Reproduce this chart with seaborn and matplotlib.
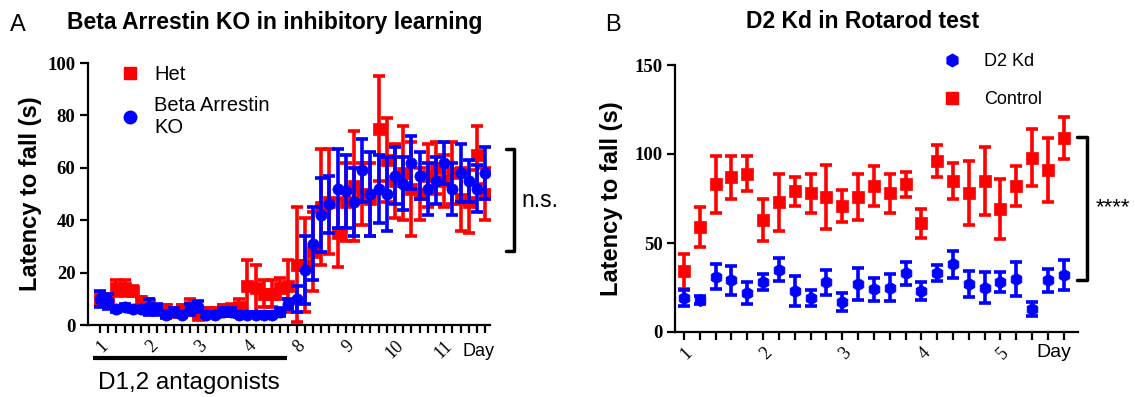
import numpy as np
import pandas as pd
import matplotlib
matplotlib.use("Agg")
import matplotlib.pyplot as plt
import seaborn as sns
from matplotlib.lines import Line2D

sns.set_style("ticks")
plt.rcParams['font.family'] = ['Liberation Sans', 'DejaVu Sans']
plt.rcParams['text.color'] = 'black'
plt.rcParams['axes.labelcolor'] = 'black'
plt.rcParams['xtick.color'] = 'black'
plt.rcParams['ytick.color'] = 'black'

# ---------------- Panel A data ----------------
a_days = ['1', '2', '3', '4', '8', '9', '10', '11']
a_trials_per_day = 6
het_mean = [10, 10, 14, 14, 13, 9,
            8, 6, 6, 5, 6, 7,
            4, 5, 5, 6, 6, 7,
            15, 14, 12, 12, 14, 15,
            23, 23, 28, 45, 47, 35,
            47, 53, 50, 48, 75, 63,
            55, 58, 52, 50, 57, 60,
            55, 58, 48, 47, 65, 50]
het_sem = [2.5, 2, 3, 3, 2, 1.5,
           2, 1.5, 1.5, 1.5, 1.5, 3,
           1, 1.5, 1.5, 1.5, 2, 3,
           10, 9, 5, 5, 4, 10,
           22, 18, 15, 22, 20, 13,
           15, 21, 12, 14, 20, 16,
           14, 18, 18, 10, 12, 10,
           10, 12, 12, 12, 11, 10]
ko_mean = [10, 9, 6, 7, 6, 6,
           7, 6, 4, 5, 4, 6,
           7, 4, 4, 5, 5, 4,
           4, 4, 4, 4, 5, 8,
           10, 21, 31, 42, 46, 52,
           51, 47, 59, 50, 52, 50,
           57, 54, 62, 57, 52, 55,
           62, 52, 58, 55, 52, 58]
ko_sem = [3, 3, 1, 1, 1, 1,
          3, 2, 1.5, 1.5, 1, 2,
          2, 1, 1, 1.5, 1.5, 1,
          1, 1, 1, 1, 1.5, 2,
          5, 13, 14, 14, 11, 15,
          14, 13, 12, 16, 13, 14,
          11, 10, 10, 9, 10, 9,
          8, 10, 11, 8, 9, 10]

# ---------------- Panel B data ----------------
b_days = ['1', '2', '3', '4', '5']
b_trials_per_day = 5
ctrl_mean = [34, 59, 83, 87, 89, 63, 73, 79, 78, 76, 71, 76, 82, 78, 83,
             61, 96, 85, 78, 85, 69, 82, 98, 91, 109]
ctrl_sem = [10, 11, 16, 12, 10, 12, 16, 8, 11, 18, 9, 13, 11, 11, 7,
            8, 9, 10, 18, 19, 17, 11, 16, 18, 12]
kd_mean = [19, 18, 31, 29, 22, 28, 35, 23, 19, 28, 17, 27, 24, 25, 33,
           23, 33, 38, 27, 25, 28, 30, 13, 29, 32]
kd_sem = [4.5, 2, 7, 8, 6, 4.5, 6.5, 8.5, 4.5, 7, 5, 9, 6.5, 7.5, 6.5,
          5, 4.5, 7.5, 7.5, 8.5, 5.5, 9.5, 4, 6.5, 8.5]

RED = '#ff0000'
BLUE = '#0000ff'

fig = plt.figure(figsize=(11.35, 3.97), dpi=100)
W, H = 1135, 397

def style_axis(ax):
    for s in ['top', 'right']:
        ax.spines[s].set_visible(False)
    for s in ['left', 'bottom']:
        ax.spines[s].set_linewidth(1.6)
        ax.spines[s].set_color('black')
    ax.tick_params(direction='out', length=5.5, width=1.6, colors='black')
    for lab in ax.get_yticklabels():
        lab.set_fontfamily('Liberation Serif')
        lab.set_fontweight('bold')
        lab.set_fontsize(13.5)

def draw_series(ax, x, mean, sem, color, marker, size, label, z):
    ax.errorbar(x, mean, yerr=sem, fmt='none', ecolor=color, elinewidth=2.6,
                capsize=4.5, capthick=2.6, zorder=z)
    df = pd.DataFrame({'trial': x, 'latency': mean})
    sns.scatterplot(data=df, x='trial', y='latency', ax=ax, color=color,
                    marker=marker, s=size, edgecolor=color, linewidth=0.5,
                    zorder=z + 0.5, label=label, legend=False)

# ---------------- Panel A ----------------
axA = fig.add_axes([88 / W, (H - 325) / H, 402 / W, 262 / H])
nA = len(a_days) * a_trials_per_day
xA = np.arange(nA)
draw_series(axA, xA, het_mean, het_sem, RED, 's', 65, 'Het', 2)
draw_series(axA, xA, ko_mean, ko_sem, BLUE, 'o', 65, 'Beta Arrestin\nKO', 3)
axA.set_xlim(-1.46, 47.6)
axA.set_ylim(0, 100)
axA.set_yticks([0, 20, 40, 60, 80, 100])
labsA = [''] * nA
for i, d in enumerate(a_days):
    labsA[i * a_trials_per_day] = d
axA.set_xticks(xA)
axA.set_xticklabels(labsA, rotation=45, ha='right', rotation_mode='anchor',
                    fontfamily='Liberation Serif', fontsize=13)
axA.set_xlabel('')
axA.set_ylabel('Latency to fall (s)', fontsize=17, fontweight='bold')
axA.yaxis.set_label_coords(-0.115, 0.5)
style_axis(axA)
axA.text(44.2, -0.1, 'Day', transform=axA.get_xaxis_transform(),
         fontsize=13, va='center', ha='left')
axA.plot([-0.85, 22.8], [-0.125, -0.125], transform=axA.get_xaxis_transform(),
         color='black', lw=3, clip_on=False, solid_capstyle='butt')
axA.text(10.8, -0.22, 'D1,2 antagonists', transform=axA.get_xaxis_transform(),
         fontsize=17.5, ha='center', va='center')
# n.s. bracket
axA.plot([49.6, 50.5, 50.5, 49.6], [67.2, 67.2, 28.2, 28.2], color='black',
         lw=2.5, clip_on=False)
axA.text(51.4, 47.7, 'n.s.', fontsize=16.5, va='center', ha='left')
hA = [Line2D([], [], ls='none', marker='s', color=RED, markersize=9),
      Line2D([], [], ls='none', marker='o', color=BLUE, markersize=9)]
axA.legend(hA, ['Het', 'Beta Arrestin\nKO'], loc='upper left',
           bbox_to_anchor=(0.03, 1.06), frameon=False, fontsize=14.5,
           handletextpad=0.6, labelspacing=0.6, handlelength=1.2)
fig.text(10 / W, 1 - 25 / H, 'A', fontsize=17, va='center', ha='left')
fig.text(275 / W, 1 - 22 / H, 'Beta Arrestin KO in inhibitory learning',
         fontsize=16.5, fontweight='bold', ha='center', va='center')

# ---------------- Panel B ----------------
axB = fig.add_axes([675 / W, (H - 332) / H, 403 / W, 267 / H])
nB = len(b_days) * b_trials_per_day
xB = np.arange(nB)
draw_series(axB, xB, ctrl_mean, ctrl_sem, RED, 's', 75, 'Control', 2)
draw_series(axB, xB, kd_mean, kd_sem, BLUE, 'h', 80, 'D2 Kd', 3)
axB.set_xlim(-0.57, 24.9)
axB.set_ylim(0, 150)
axB.set_yticks([0, 50, 100, 150])
labsB = [''] * nB
for i, d in enumerate(b_days):
    labsB[i * b_trials_per_day] = d
axB.set_xticks(xB)
axB.set_xticklabels(labsB, rotation=45, ha='right', rotation_mode='anchor',
                    fontfamily='Liberation Serif', fontsize=13)
axB.set_xlabel('')
axB.set_ylabel('Latency to fall (s)', fontsize=17, fontweight='bold')
axB.yaxis.set_label_coords(-0.13, 0.5)
style_axis(axB)
axB.text(22.3, -0.075, 'Day', transform=axB.get_xaxis_transform(),
         fontsize=14, va='center', ha='left')
axB.plot([24.85, 25.5, 25.5, 24.85], [109.5, 109.5, 29, 29], color='black',
         lw=2.5, clip_on=False)
axB.text(26.0, 70, '****', fontsize=16, va='center', ha='left')
hB = [Line2D([], [], ls='none', marker='h', color=BLUE, markersize=9),
      Line2D([], [], ls='none', marker='s', color=RED, markersize=9)]
axB.legend(hB, ['D2 Kd', 'Control'], loc='upper left',
           bbox_to_anchor=(0.62, 1.105), frameon=False, fontsize=13,
           handletextpad=1.2, labelspacing=1.15, handlelength=1.2)
fig.text(605 / W, 1 - 25 / H, 'B', fontsize=17, va='center', ha='left')
fig.text(863 / W, 1 - 22 / H, 'D2 Kd in Rotarod test',
         fontsize=16.5, fontweight='bold', ha='center', va='center')

fig.savefig('out.png', dpi=100)
